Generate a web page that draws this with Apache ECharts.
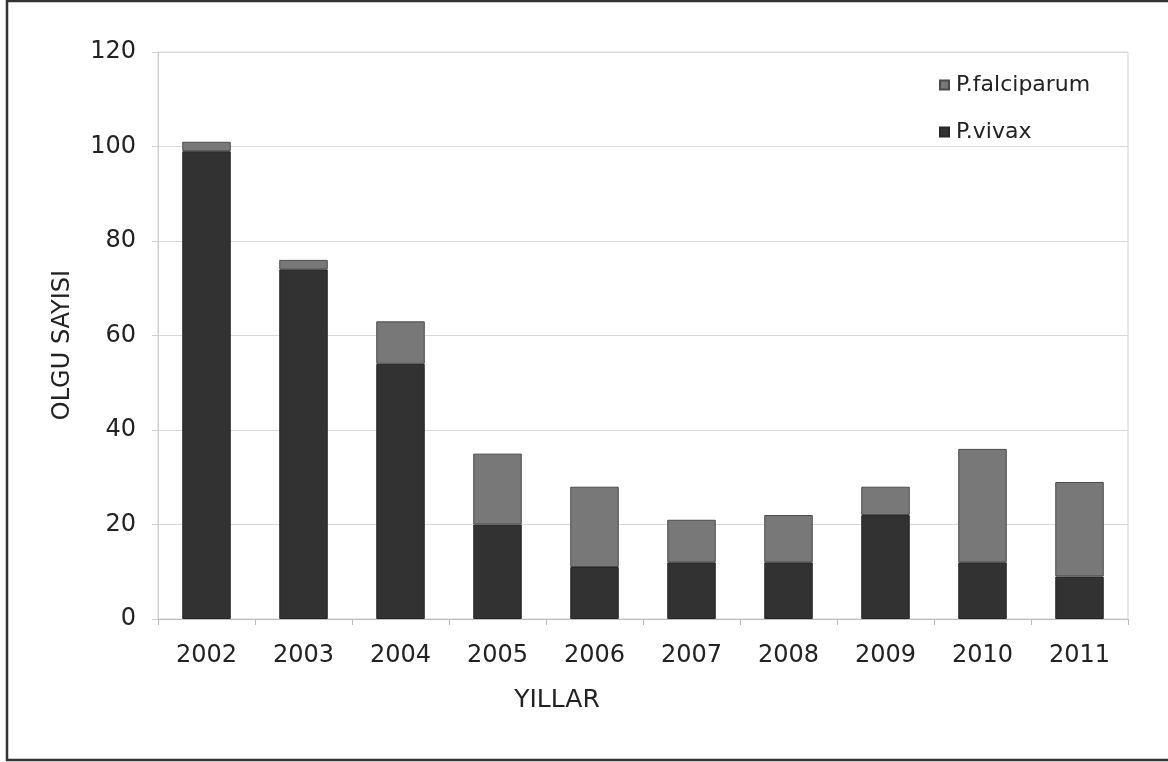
<!DOCTYPE html>
<html>
<head>
<meta charset="utf-8">
<script src="https://cdn.jsdelivr.net/npm/echarts@6/dist/echarts.min.js"></script>
<style>
  html, body { margin: 0; padding: 0; background: #fff; }
  #chart { width: 1168px; height: 762px; }
</style>
</head>
<body>
<div id="chart"></div>
<script>
  // yillar ve olgu sayilari
  var years = ['2002', '2003', '2004', '2005', '2006', '2007', '2008', '2009', '2010', '2011'];
  var vivax = [99, 74, 54, 20, 11, 12, 12, 22, 12, 9];
  var falciparum = [2, 2, 9, 15, 17, 9, 10, 6, 24, 20];
  var yTicks = [0, 20, 40, 60, 80, 100, 120];

  var font = 'DejaVu Sans, Arial, sans-serif';
  var chart = echarts.init(document.getElementById('chart'));

  chart.setOption({
    animation: false,
    textStyle: { fontFamily: font },
    grid: {
      left: 158, top: 52, right: 40, bottom: 143,
      show: true, borderColor: '#d4d4d4', borderWidth: 1
    },
    legend: {
      orient: 'vertical',
      left: 934, top: 68,
      itemWidth: 9, itemHeight: 9, itemGap: 23,
      icon: 'rect',
      data: ['P.falciparum', 'P.vivax'],
      textStyle: { fontSize: 22, color: '#222', lineHeight: 24, fontFamily: font, padding: [0, 0, 0, 2] }
    },
    xAxis: {
      type: 'category',
      data: years,
      axisLine: { lineStyle: { color: '#bdbdbd' } },
      axisTick: { show: true, length: 6, lineStyle: { color: '#bdbdbd' } },
      axisLabel: { fontSize: 24, color: '#222', margin: 25 }
    },
    yAxis: {
      type: 'value',
      min: yTicks[0], max: yTicks[yTicks.length - 1], interval: 20,
      axisLine: { show: true, lineStyle: { color: '#cfcfcf' } },
      axisTick: { show: true, length: 6, lineStyle: { color: '#cfcfcf' } },
      splitLine: { lineStyle: { color: '#d9d9d9' } },
      axisLabel: { fontSize: 24, color: '#222', margin: 22 }
    },
    series: [
      {
        name: 'P.vivax', type: 'bar', stack: 'olgu', barWidth: '50%',
        itemStyle: { color: '#323232', borderColor: '#262626', borderWidth: 1 },
        data: vivax
      },
      {
        name: 'P.falciparum', type: 'bar', stack: 'olgu', barWidth: '50%',
        itemStyle: { color: '#787878', borderColor: '#4a4a4a', borderWidth: 1 },
        data: falciparum
      }
    ],
    graphic: [
      {
        type: 'rect', silent: true,
        shape: { x: 7, y: 1, width: 1170, height: 759 },
        style: { fill: 'none', stroke: '#333', lineWidth: 2.5 }
      },
      {
        type: 'text', x: 63, y: 345, rotation: Math.PI / 2,
        style: {
          text: 'OLGU SAYISI', fontSize: 24, fill: '#222', fontFamily: font,
          textAlign: 'center', textVerticalAlign: 'middle'
        }
      },
      {
        type: 'text', x: 557, y: 700,
        style: {
          text: 'YILLAR', fontSize: 25, fill: '#222', fontFamily: font,
          textAlign: 'center', textVerticalAlign: 'middle'
        }
      }
    ]
  });
</script>
</body>
</html>
